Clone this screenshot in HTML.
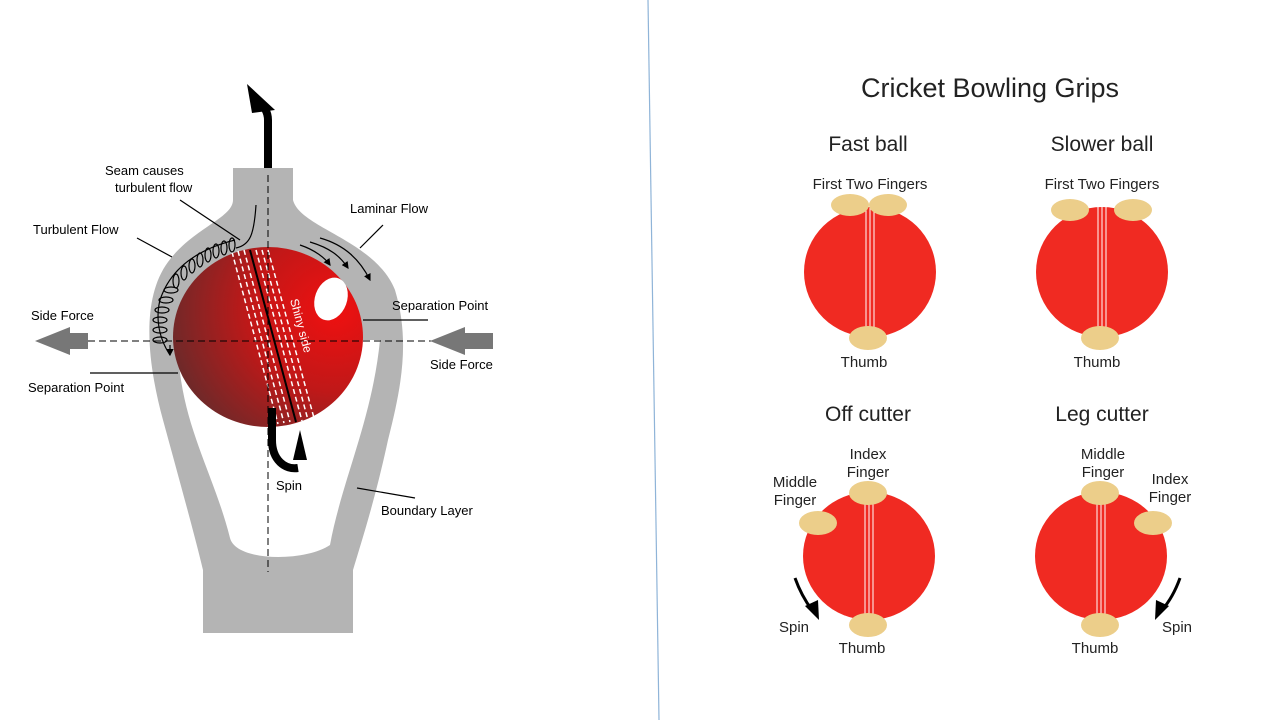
<!DOCTYPE html>
<html><head><style>
body{margin:0;width:1280px;height:720px;background:#fff;overflow:hidden;font-family:"Liberation Sans",sans-serif}
</style></head><body>
<svg width="1280" height="720" viewBox="0 0 1280 720" xmlns="http://www.w3.org/2000/svg">
<defs>
<radialGradient id="bg" cx="0.85" cy="0.35" r="0.9">
<stop offset="0" stop-color="#f01010"/><stop offset="0.5" stop-color="#c01818"/><stop offset="1" stop-color="#6a2a2a"/>
</radialGradient>
<marker id="ah" markerWidth="6" markerHeight="6" refX="5" refY="3" orient="auto"><path d="M0,0L6,3L0,6Z" fill="#000"/></marker>
</defs>
<line x1="648" y1="0" x2="659" y2="720" stroke="#8fb4d8" stroke-width="1.2"/>
<!-- gray flow envelope -->
<path d="M233,168 L293,168 L293,200 C300,228 375,240 395,290 C410,340 402,385 388,440 C375,500 362,540 353,570 L353,633 L203,633 L203,570 C196,540 178,475 163,420 C148,365 140,300 168,262 C193,228 233,218 233,200 Z" fill="#b4b4b4"/>
<path d="M178,340 C178,420 213,470 230,538 C236,562 305,562 330,545 C342,480 372,420 380,340 Z" fill="#fff"/>
<!-- ball -->
<ellipse cx="268" cy="337" rx="95" ry="90" fill="url(#bg)"/>
<g stroke="#fff" stroke-width="1.5" stroke-dasharray="5,3" fill="none">
<line x1="232" y1="252" x2="278" y2="424"/><line x1="238" y1="251" x2="284" y2="423"/><line x1="244" y1="250" x2="290" y2="422"/>
<line x1="256" y1="250" x2="302" y2="421"/><line x1="262" y1="250" x2="308" y2="420"/><line x1="268" y1="250" x2="314" y2="418"/>
</g>
<line x1="250" y1="250" x2="296" y2="422" stroke="#000" stroke-width="2"/>
<ellipse cx="331" cy="299" rx="16" ry="22" transform="rotate(20 331 299)" fill="#fff"/>
<text x="290" y="300" fill="#fff" font-size="12" transform="rotate(75 290 300)">Shiny side</text>
<!-- dashed axes -->
<line x1="268" y1="175" x2="268" y2="572" stroke="#000" stroke-dasharray="7,4"/>
<line x1="88" y1="341" x2="445" y2="341" stroke="#000" stroke-dasharray="7,4"/>
<!-- top arrow -->
<path d="M268,168 L268,120 C268,110 262,105 258,100" stroke="#000" stroke-width="8" fill="none"/>
<path d="M247,84 L275,110 L252,113 Z" fill="#000"/>
<!-- side force arrows -->
<path d="M35,341 L70,327 L70,333 L88,333 L88,349 L70,349 L70,355 Z" fill="#777"/>
<path d="M430,341 L465,327 L465,333 L493,333 L493,349 L465,349 L465,355 Z" fill="#777"/>
<!-- turbulent loops -->
<path d="M170,355 C160,340 155,320 160,300 C170,270 195,250 235,240" stroke="#000" stroke-width="1.2" fill="none" stroke-dasharray="1,0"/>
<g fill="none" stroke="#000" stroke-width="1.2">
<ellipse cx="160" cy="340" rx="7" ry="3"/><ellipse cx="160" cy="330" rx="7" ry="3"/><ellipse cx="160" cy="320" rx="7" ry="3"/><ellipse cx="162" cy="310" rx="7" ry="3"/><ellipse cx="166" cy="300" rx="7" ry="3"/><ellipse cx="171" cy="290" rx="7" ry="3"/>
<ellipse cx="176" cy="281" rx="3" ry="7"/><ellipse cx="184" cy="273" rx="3" ry="7"/><ellipse cx="192" cy="266" rx="3" ry="7"/><ellipse cx="200" cy="260" rx="3" ry="7"/><ellipse cx="208" cy="255" rx="3" ry="7"/><ellipse cx="216" cy="251" rx="3" ry="7"/><ellipse cx="224" cy="248" rx="3" ry="7"/><ellipse cx="232" cy="245" rx="3" ry="7"/>
<path d="M236,248 C250,245 254,235 256,205"/>
<path d="M170,345 L170,355" marker-end="url(#ah)"/>
<path d="M300,245 C315,250 325,258 330,265" marker-end="url(#ah)"/>
<path d="M310,242 C330,248 340,256 348,268" marker-end="url(#ah)"/>
<path d="M320,238 C345,245 360,260 370,280" marker-end="url(#ah)"/>
</g>
<!-- spin arrow -->
<path d="M272,408 L272,440 C272,460 285,470 298,468" stroke="#000" stroke-width="8" fill="none"/>
<path d="M300,430 L293,460 L307,460 Z" fill="#000"/>
<!-- leader lines -->
<g stroke="#000" stroke-width="1.2">
<line x1="180" y1="200" x2="240" y2="240"/>
<line x1="137" y1="238" x2="172" y2="257"/>
<line x1="383" y1="225" x2="360" y2="248"/>
<line x1="363" y1="320" x2="428" y2="320"/>
<line x1="90" y1="373" x2="178" y2="373"/>
<line x1="357" y1="488" x2="415" y2="498"/>
</g>
<g font-size="13" fill="#000">
<text x="105" y="175">Seam causes</text><text x="115" y="192">turbulent flow</text>
<text x="33" y="234">Turbulent Flow</text>
<text x="350" y="213">Laminar Flow</text>
<text x="31" y="320">Side Force</text>
<text x="392" y="310">Separation Point</text>
<text x="430" y="369">Side Force</text>
<text x="28" y="392">Separation Point</text>
<text x="276" y="490">Spin</text>
<text x="381" y="515">Boundary Layer</text>
</g>
<!-- right panel -->
<g font-family="Liberation Sans, DejaVu Sans, sans-serif" fill="#222" text-anchor="middle">
<text x="990" y="97" font-size="27">Cricket Bowling Grips</text>
<text x="868" y="151" font-size="21">Fast ball</text>
<text x="1102" y="151" font-size="21">Slower ball</text>
<text x="868" y="421" font-size="21">Off cutter</text>
<text x="1102" y="421" font-size="21">Leg cutter</text>
<g font-size="15">
<text x="870" y="189">First Two Fingers</text><text x="1102" y="189">First Two Fingers</text>
<text x="864" y="367">Thumb</text><text x="1097" y="367">Thumb</text>
<text x="868" y="459">Index</text><text x="868" y="477">Finger</text>
<text x="795" y="487">Middle</text><text x="795" y="505">Finger</text>
<text x="1103" y="459">Middle</text><text x="1103" y="477">Finger</text>
<text x="1170" y="484">Index</text><text x="1170" y="502">Finger</text>
<text x="794" y="632">Spin</text><text x="1177" y="632">Spin</text>
<text x="862" y="653">Thumb</text><text x="1095" y="653">Thumb</text>
</g>
</g>
<g id="balls">
<ellipse cx="870" cy="272" rx="66" ry="65" fill="#f02a22"/>
<ellipse cx="1102" cy="272" rx="66" ry="65" fill="#f02a22"/>
<ellipse cx="869" cy="556" rx="66" ry="64" fill="#f02a22"/>
<ellipse cx="1101" cy="556" rx="66" ry="64" fill="#f02a22"/>
<g stroke="#fff" stroke-width="1">
<line x1="866" y1="207" x2="866" y2="337"/><line x1="870" y1="207" x2="870" y2="337"/><line x1="874" y1="207" x2="874" y2="337"/>
<line x1="1098" y1="207" x2="1098" y2="337"/><line x1="1102" y1="207" x2="1102" y2="337"/><line x1="1106" y1="207" x2="1106" y2="337"/>
<line x1="865" y1="492" x2="865" y2="620"/><line x1="869" y1="492" x2="869" y2="620"/><line x1="873" y1="492" x2="873" y2="620"/>
<line x1="1097" y1="492" x2="1097" y2="620"/><line x1="1101" y1="492" x2="1101" y2="620"/><line x1="1105" y1="492" x2="1105" y2="620"/>
</g>
<g fill="#ecce8a">
<ellipse cx="850" cy="205" rx="19" ry="11"/><ellipse cx="888" cy="205" rx="19" ry="11"/><ellipse cx="868" cy="338" rx="19" ry="12"/>
<ellipse cx="1070" cy="210" rx="19" ry="11"/><ellipse cx="1133" cy="210" rx="19" ry="11"/><ellipse cx="1100" cy="338" rx="19" ry="12"/>
<ellipse cx="868" cy="493" rx="19" ry="12"/><ellipse cx="818" cy="523" rx="19" ry="12"/><ellipse cx="868" cy="625" rx="19" ry="12"/>
<ellipse cx="1100" cy="493" rx="19" ry="12"/><ellipse cx="1153" cy="523" rx="19" ry="12"/><ellipse cx="1100" cy="625" rx="19" ry="12"/>
</g>
<g stroke="#000" stroke-width="3" fill="none">
<path d="M795,578 C800,592 806,602 812,610"/>
<path d="M1180,578 C1175,592 1169,602 1162,610"/>
</g>
<path d="M805,606 L819,620 L818,600 Z" fill="#000"/>
<path d="M1169,606 L1155,620 L1156,600 Z" fill="#000"/>
</g>
</svg>
</body></html>
